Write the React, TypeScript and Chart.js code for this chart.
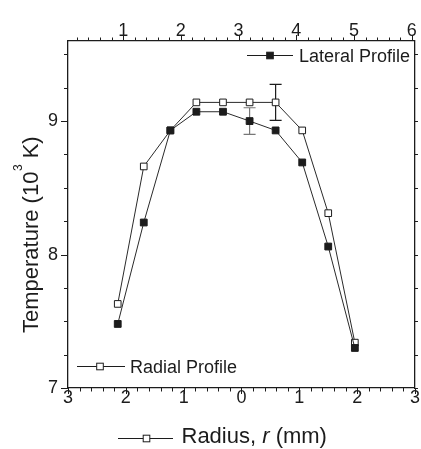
import React, { useEffect, useRef } from "react";
import { Chart, registerables } from "chart.js";

Chart.register(...registerables);

// ---- data ----
const radius = [-2.14, -1.69, -1.23, -0.78, -0.32, 0.14, 0.59, 1.05, 1.5, 1.96];
const lateralT = [7.48, 8.24, 8.93, 9.07, 9.07, 9.0, 8.93, 8.69, 8.06, 7.3];
const radialT = [7.63, 8.66, 8.93, 9.14, 9.14, 9.14, 9.14, 8.93, 8.31, 7.34];
const lateralErr = [0, 0, 0, 0, 0, 0.1, 0, 0, 0, 0];
const radialErr = [0, 0, 0, 0, 0, 0, 0.135, 0, 0, 0];

const bottomTicks = [-3, -2, -1, 0, 1, 2, 3];
const topTicks = [1, 2, 3, 4, 5, 6];
const leftTicks = [7, 8, 9];

const FONT = '"Liberation Sans", Arial, Helvetica, sans-serif';
const INK = "#1c1c1c";

function drawSquare(ctx: CanvasRenderingContext2D, x: number, y: number, filled: boolean) {
  const s = 6.6;
  ctx.save();
  ctx.lineWidth = 1;
  ctx.strokeStyle = INK;
  ctx.fillStyle = filled ? INK : "#ffffff";
  ctx.fillRect(x - s / 2, y - s / 2, s, s);
  ctx.strokeRect(x - s / 2, y - s / 2, s, s);
  ctx.restore();
}

const decorPlugin = {
  id: "decor",
  beforeDatasetsDraw(chart: any) {
    const ctx: CanvasRenderingContext2D = chart.ctx;
    const xs = chart.scales.x;
    const ys = chart.scales.y;
    const sets = [
      { vals: lateralT, err: lateralErr, color: "#777777" },
      { vals: radialT, err: radialErr, color: INK },
    ];
    ctx.save();
    ctx.lineWidth = 1.2;
    for (const s of sets) {
      ctx.strokeStyle = s.color;
      s.err.forEach((e, i) => {
        if (!e) return;
        const px = xs.getPixelForValue(radius[i]);
        const top = ys.getPixelForValue(s.vals[i] + e);
        const bot = ys.getPixelForValue(s.vals[i] - e);
        ctx.beginPath();
        ctx.moveTo(px, top);
        ctx.lineTo(px, bot);
        ctx.moveTo(px - 6, top);
        ctx.lineTo(px + 6, top);
        ctx.moveTo(px - 6, bot);
        ctx.lineTo(px + 6, bot);
        ctx.stroke();
      });
    }
    ctx.restore();
  },
  afterDraw(chart: any) {
    const ctx: CanvasRenderingContext2D = chart.ctx;
    const { x, xTop, y } = chart.scales;
    const area = chart.chartArea;
    ctx.save();
    ctx.strokeStyle = INK;
    ctx.lineWidth = 1;
    const tickX = (scale: any, v: number, edge: number, len: number) => {
      const p = Math.round(scale.getPixelForValue(v)) + 0.5;
      ctx.beginPath();
      ctx.moveTo(p, edge);
      ctx.lineTo(p, edge + len);
      ctx.stroke();
    };
    const tickY = (v: number, edge: number, len: number) => {
      const p = Math.round(y.getPixelForValue(v)) + 0.5;
      ctx.beginPath();
      ctx.moveTo(edge, p);
      ctx.lineTo(edge + len, p);
      ctx.stroke();
    };
    // bottom axis
    for (let i = -15; i <= 15; i++) {
      const major = i % 5 === 0;
      tickX(x, i / 5, area.bottom, major ? 6 : 3.5);
    }
    // top axis
    for (let i = 1; i <= 30; i++) {
      const major = i % 5 === 0;
      tickX(xTop, i / 5, area.top, major ? -6 : -3.5);
    }
    // left / right axes
    for (let i = 28; i <= 38; i++) {
      const major = i % 4 === 0;
      tickY(i / 4, area.left, major ? -7 : -4);
      tickY(i / 4, area.right, 3);
    }

    ctx.fillStyle = INK;
    // y title
    ctx.save();
    ctx.translate(37.5, 333);
    ctx.rotate(-Math.PI / 2);
    ctx.textAlign = "left";
    ctx.textBaseline = "alphabetic";
    ctx.font = `22px ${FONT}`;
    const t1 = "Temperature (10";
    ctx.fillText(t1, 0, 0);
    let w = ctx.measureText(t1).width;
    ctx.font = `12px ${FONT}`;
    ctx.fillText("3", w + 0.5, -15.5);
    w += ctx.measureText("3").width + 0.5;
    ctx.font = `22px ${FONT}`;
    ctx.fillText(" K)", w, 0);
    ctx.restore();

    // x title with symbol
    ctx.save();
    ctx.beginPath();
    ctx.moveTo(118, 438.5);
    ctx.lineTo(173, 438.5);
    ctx.stroke();
    drawSquare(ctx, 146.5, 438.5, false);
    ctx.textBaseline = "alphabetic";
    ctx.textAlign = "left";
    let bx = 181.5;
    ctx.font = `22px ${FONT}`;
    ctx.fillText("Radius, ", bx, 443);
    bx += ctx.measureText("Radius, ").width;
    ctx.font = `italic 22px ${FONT}`;
    ctx.fillText("r", bx, 443);
    bx += ctx.measureText("r").width;
    ctx.font = `22px ${FONT}`;
    ctx.fillText(" (mm)", bx, 443);
    ctx.restore();

    // legends
    ctx.save();
    ctx.textBaseline = "alphabetic";
    ctx.textAlign = "left";
    ctx.font = `18px ${FONT}`;
    ctx.beginPath();
    ctx.moveTo(247, 55.5);
    ctx.lineTo(293, 55.5);
    ctx.stroke();
    drawSquare(ctx, 270, 55.5, true);
    ctx.fillText("Lateral Profile", 299, 61.5);

    ctx.beginPath();
    ctx.moveTo(77, 366.5);
    ctx.lineTo(125, 366.5);
    ctx.stroke();
    drawSquare(ctx, 100, 366.5, false);
    ctx.fillText("Radial Profile", 130, 373);
    ctx.restore();

    ctx.restore();
  },
};

export default function App() {
  const ref = useRef<HTMLCanvasElement | null>(null);
  useEffect(() => {
    if (!ref.current) return;
    const tickFont = { family: FONT, size: 18, lineHeight: 1 };
    const border = { display: true, color: INK, width: 1.3 };
    const chart = new Chart(ref.current, {
      type: "line",
      data: {
        datasets: [
          {
            label: "Lateral Profile",
            data: radius.map((r, i) => ({ x: r, y: lateralT[i] })),
            borderColor: "#2a2a2a",
            borderWidth: 1,
            pointStyle: "rect",
            pointRadius: 4.8,
            pointBackgroundColor: INK,
            pointBorderColor: INK,
            pointBorderWidth: 1,
            tension: 0,
            xAxisID: "x",
            yAxisID: "y",
          },
          {
            label: "Radial Profile",
            data: radius.map((r, i) => ({ x: r, y: radialT[i] })),
            borderColor: "#2a2a2a",
            borderWidth: 1,
            pointStyle: "rect",
            pointRadius: 4.7,
            pointBackgroundColor: "#ffffff",
            pointBorderColor: INK,
            pointBorderWidth: 1,
            tension: 0,
            xAxisID: "x",
            yAxisID: "y",
          },
        ],
      },
      options: {
        responsive: false,
        animation: false,
        devicePixelRatio: 1,
        layout: { padding: 0 },
        plugins: { legend: { display: false }, tooltip: { enabled: false } },
        scales: {
          x: {
            type: "linear",
            position: "bottom",
            min: -3,
            max: 3,
            grid: { display: false, drawTicks: false },
            border,
            ticks: { font: tickFont, color: INK, padding: 1, callback: (v: any) => String(Math.abs(Number(v))) },
            afterBuildTicks: (s: any) => {
              s.ticks = bottomTicks.map((v) => ({ value: v }));
            },
            afterFit: (s: any) => {
              s.height = 61;
            },
          },
          xTop: {
            type: "linear",
            position: "top",
            min: 0.045,
            max: 6.055,
            grid: { display: false, drawTicks: false },
            border,
            ticks: { font: tickFont, color: INK, padding: 1 },
            afterBuildTicks: (s: any) => {
              s.ticks = topTicks.map((v) => ({ value: v }));
            },
            afterFit: (s: any) => {
              s.height = 41;
            },
          },
          y: {
            type: "linear",
            position: "left",
            min: 7,
            max: 9.6,
            grid: { display: false, drawTicks: false },
            border,
            ticks: { font: tickFont, color: INK, padding: 10 },
            afterBuildTicks: (s: any) => {
              s.ticks = leftTicks.map((v) => ({ value: v }));
            },
            afterFit: (s: any) => {
              s.width = 68;
            },
          },
          yRight: {
            type: "linear",
            position: "right",
            min: 7,
            max: 9.6,
            grid: { display: false, drawTicks: false },
            border,
            ticks: { display: false },
            afterFit: (s: any) => {
              s.width = 3;
            },
          },
        },
      } as any,
      plugins: [decorPlugin],
    });
    return () => chart.destroy();
  }, []);
  return (
    <div style={{ position: "absolute", left: 0, top: 0, width: 421, height: 449, background: "#fff" }}>
      <canvas ref={ref} width={421} height={449} />
    </div>
  );
}
